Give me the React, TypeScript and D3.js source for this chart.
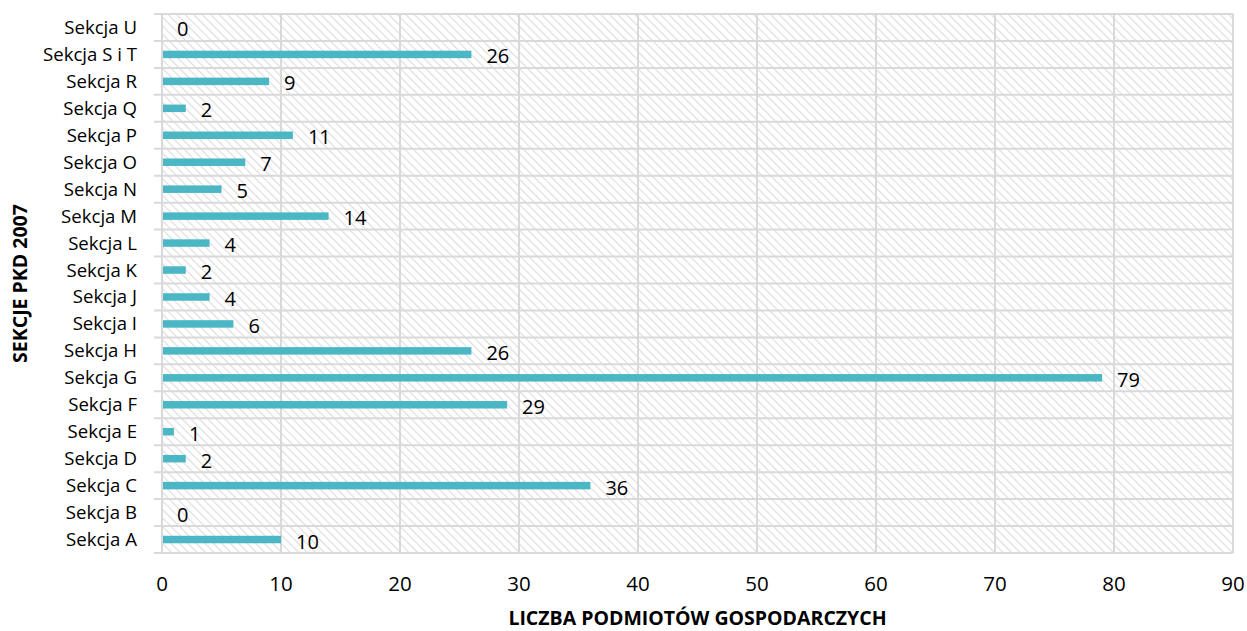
import React from "react";
import * as d3 from "d3";

const categories = ["Sekcja A","Sekcja B","Sekcja C","Sekcja D","Sekcja E","Sekcja F","Sekcja G","Sekcja H","Sekcja I","Sekcja J","Sekcja K","Sekcja L","Sekcja M","Sekcja N","Sekcja O","Sekcja P","Sekcja Q","Sekcja R","Sekcja S i T","Sekcja U"];
const values = [10,0,36,2,1,29,79,26,6,4,2,4,14,5,7,11,2,9,26,0];
const xTicks = [0,10,20,30,40,50,60,70,80,90];
const xTitle = "LICZBA PODMIOTÓW GOSPODARCZYCH";
const yTitle = "SEKCJE PKD 2007";

const W = 1247, H = 631;
const left = 162, right = 1233, top = 14, bottom = 553;
const FONT = "'Open Sans', 'Noto Sans', sans-serif";
const GRID = "#d9d9d9";
const BAR = "#4bb7c5";

export default function App() {
  const x = d3.scaleLinear().domain([0, 90]).range([left, right]);
  const y = d3.scaleBand<string>().domain([...categories].reverse()).range([top, bottom]).paddingInner(0).paddingOuter(0);
  const bw = y.bandwidth();
  const barH = 7.5;
  const boundaries = d3.range(categories.length + 1).map(i => top + i * bw);

  return (
    <svg width={W} height={H} style={{ position: "absolute", left: 0, top: 0, display: "block", background: "#fff" }}>
      <defs>
        <pattern id="hatch" patternUnits="userSpaceOnUse" width={6} height={6} patternTransform="rotate(-45)">
          <rect width={6} height={6} fill="#ffffff" />
          <line x1={0} y1={0} x2={0} y2={6} stroke="#dedede" strokeWidth={2.4} />
        </pattern>
      </defs>
      <rect x={left} y={top} width={right - left} height={bottom - top} fill="url(#hatch)" />
      {xTicks.map(t => (
        <line key={"v" + t} x1={x(t)} x2={x(t)} y1={top} y2={bottom} stroke={GRID} strokeWidth={2} />
      ))}
      {boundaries.map((b, i) => (
        <line key={"h" + i} x1={left - 8} x2={right} y1={b} y2={b} stroke={GRID} strokeWidth={2} />
      ))}
      {categories.map((c, i) => {
        const yc = (y(c) as number) + bw / 2;
        const v = values[i];
        return (
          <g key={c}>
            {v > 0 && (
              <rect x={x(0) + 1} y={yc - barH / 2} width={x(v) - x(0) - 1} height={barH} fill={BAR} />
            )}
            <text x={x(v) + 15} y={yc + 2} dy="0.35em" fontFamily={FONT} fontSize={20} fill="#000">{v}</text>
            <text x={137} y={yc} dy="0.35em" textAnchor="end" fontFamily={FONT} fontSize={18.6} fill="#000">{c}</text>
          </g>
        );
      })}
      {xTicks.map(t => (
        <text key={"t" + t} x={x(t)} y={584} dy="0.35em" textAnchor="middle" fontFamily={FONT} fontSize={20.5} fill="#000">{t}</text>
      ))}
      <text x={(left + right) / 2} y={618} dy="0.35em" textAnchor="middle" fontFamily={FONT} fontSize={19.5} fontWeight="bold" fill="#000">{xTitle}</text>
      <text transform={`translate(20,${(top + bottom) / 2}) rotate(-90)`} dy="0.35em" textAnchor="middle" fontFamily={FONT} fontSize={19.5} fontWeight="bold" fill="#000">{yTitle}</text>
    </svg>
  );
}
